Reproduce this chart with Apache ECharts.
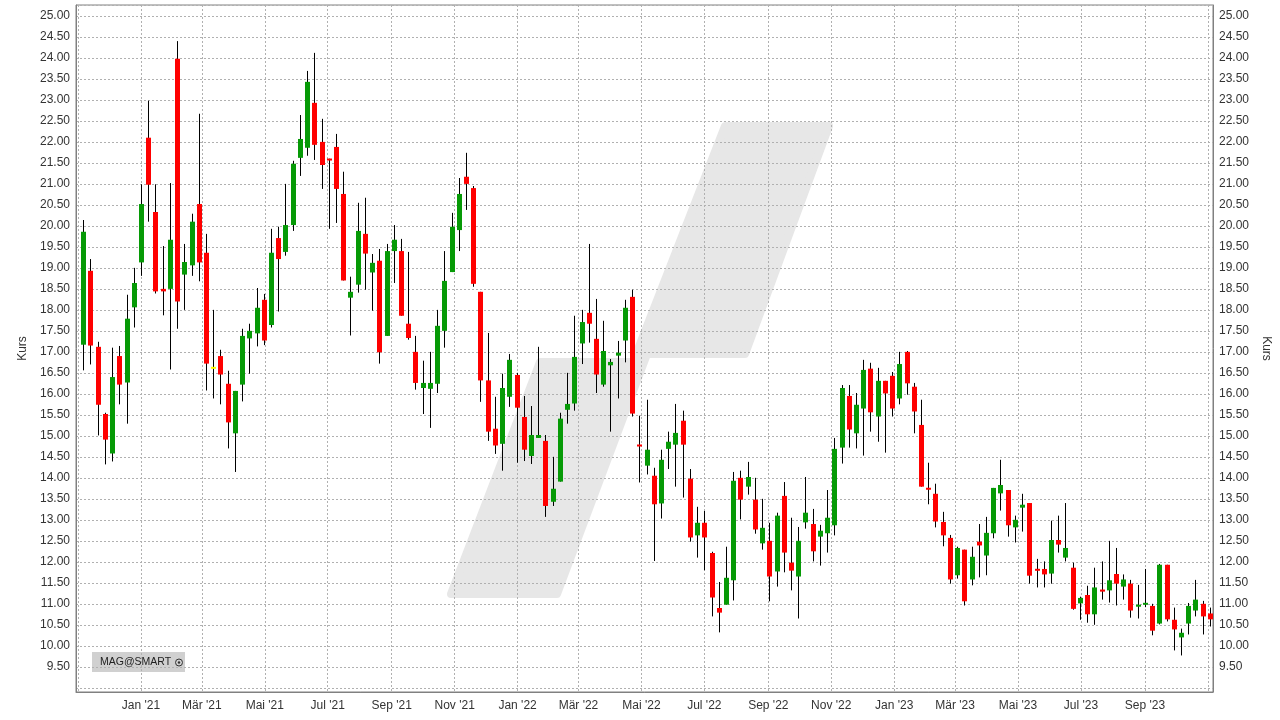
<!DOCTYPE html>
<html>
<head>
<meta charset="utf-8">
<script src="https://cdn.jsdelivr.net/npm/echarts@6/dist/echarts.min.js"></script>
<style>
html,body{margin:0;padding:0;background:#fff;}
#chart{width:1280px;height:720px;}
</style>
</head>
<body>
<div id="chart"></div>
<script>
// Weekly candles (Friday closes), first week and OHLC values
const firstWeek = '2020-11-06';
// [open, close, low, high]
const ohlc = [
[17.17,19.86,16.56,20.14],[18.93,17.15,16.70,19.21],[17.12,15.74,15.01,17.24],[15.52,14.91,14.32,15.55],
[14.58,16.40,14.39,17.10],[16.90,16.22,15.75,17.14],[16.27,17.79,15.29,18.36],[18.06,18.64,17.58,19.00],
[19.13,20.52,18.81,20.99],[22.10,20.98,20.10,22.98],[20.33,18.44,18.39,20.99],[18.50,18.44,17.87,19.52],
[18.50,19.67,16.58,21.02],[23.98,18.20,17.55,24.40],[18.84,19.14,18.00,19.57],[19.06,20.10,18.81,20.29],
[20.52,19.13,18.68,22.67],[19.36,16.72,16.08,19.81],[16.62,16.62,15.89,18.00],[16.90,16.46,15.75,17.05],
[16.24,15.32,14.70,16.55],[15.06,16.07,14.14,16.07],[16.22,17.38,15.82,17.55],[17.32,17.50,16.48,17.67],
[17.44,18.05,17.13,18.52],[18.24,17.27,17.16,18.38],[17.64,19.36,17.58,19.93],[19.71,19.21,17.96,19.98],
[19.38,20.02,19.29,21.00],[20.02,21.48,19.88,21.55],[21.62,22.07,21.19,22.64],[21.86,23.43,21.67,23.69],
[22.93,21.93,21.57,24.12],[22.00,21.45,20.88,22.55],[21.60,21.56,19.93,21.60],[21.88,20.88,20.07,22.19],
[20.76,18.70,18.70,21.29],[18.29,18.43,17.39,18.79],[18.60,19.88,18.41,20.55],[19.81,19.34,18.48,20.67],
[18.89,19.12,17.98,19.33],[19.17,16.99,16.72,19.45],[17.38,19.40,17.38,19.57],[19.40,19.67,18.64,20.02],
[19.40,17.86,17.86,19.69],[17.67,17.33,17.29,19.38],[17.00,16.26,16.10,17.38],[16.14,16.26,15.52,16.79],
[16.12,16.26,15.19,17.00],[16.24,17.62,16.02,18.00],[17.50,18.69,17.10,19.40],[18.90,19.98,18.90,20.31],
[19.90,20.76,19.40,21.14],[21.17,21.00,20.38,21.74],[20.90,18.62,18.55,20.95],[18.43,16.32,15.81,18.43],
[16.32,15.10,14.88,17.45],[15.17,14.77,14.57,15.93],[14.81,16.14,14.17,16.48],[15.93,16.81,15.69,16.95],
[16.45,15.67,14.36,16.50],[15.45,14.67,14.40,15.95],[14.52,15.02,14.33,15.71],[14.95,15.02,14.95,17.12],
[14.88,13.33,13.07,15.02],[13.43,13.74,13.33,14.50],[13.91,15.41,13.91,15.55],[15.62,15.76,15.29,16.50],
[15.77,16.88,15.60,17.86],[17.20,17.71,16.71,18.00],[17.93,17.67,17.22,19.57],[17.31,16.46,16.02,18.26],
[16.22,17.02,16.17,17.74],[16.68,16.76,15.10,16.83],[16.91,16.98,15.89,17.26],[17.27,18.05,16.75,18.24],
[18.31,15.53,15.46,18.48],[14.79,14.75,13.89,15.48],[14.29,14.67,14.08,15.86],[14.05,13.37,12.02,14.24],
[13.39,14.43,13.03,14.67],[14.69,14.86,14.21,15.10],[14.79,15.07,13.79,15.76],[15.36,14.79,13.53,15.60],
[13.98,12.58,12.48,14.21],[12.63,12.93,12.10,13.31],[12.93,12.58,11.80,13.21],[12.21,11.15,10.70,12.24],
[10.90,10.79,10.32,11.52],[10.98,11.62,10.98,12.36],[11.56,13.93,11.08,14.14],[14.00,13.48,13.01,14.17],
[13.79,14.02,13.60,14.38],[13.48,12.77,12.67,14.00],[12.44,12.81,12.29,13.50],[12.50,11.65,11.06,12.93],
[11.77,13.10,11.41,13.17],[13.57,12.22,11.75,13.90],[11.98,11.79,11.32,13.05],[11.65,12.50,10.65,12.83],
[12.94,13.17,12.79,14.02],[12.90,12.25,12.01,13.26],[12.60,12.74,11.91,12.88],[12.68,13.05,12.22,13.71],
[12.87,14.69,12.63,14.95],[14.72,16.14,14.34,16.21],[15.95,15.15,14.72,16.21],[15.06,15.74,14.70,16.02],
[15.65,16.57,14.53,16.81],[16.60,15.56,15.10,16.74],[15.46,16.31,14.86,16.62],[16.31,16.01,14.60,16.31],
[16.43,15.65,15.46,16.52],[15.89,16.71,15.75,17.00],[17.00,16.25,15.98,17.02],[16.17,15.58,15.06,16.26],
[15.26,13.79,13.79,15.86],[13.76,13.72,13.37,14.36],[13.62,12.96,12.82,13.86],[12.95,12.63,12.37,13.19],
[12.57,11.58,11.48,12.64],[11.68,12.33,11.60,12.36],[12.29,11.06,10.96,12.29],[11.58,12.12,11.44,12.36],
[12.48,12.39,11.63,12.90],[12.15,12.69,11.68,13.07],[12.68,13.76,12.56,13.76],[13.63,13.83,13.22,14.43],
[13.71,12.87,12.60,13.71],[12.82,13.00,12.46,13.10],[13.29,13.36,12.72,13.62],[13.40,11.67,11.48,13.40],
[11.83,11.79,11.39,12.07],[11.83,11.70,11.39,12.01],[11.72,12.52,11.48,12.98],[12.52,12.41,12.22,13.10],
[12.10,12.33,12.01,13.40],[11.86,10.88,10.86,11.98],[11.01,11.14,10.62,11.17],[11.21,10.75,10.55,11.43],
[10.75,11.39,10.50,11.86],[11.34,11.29,11.10,12.01],[11.32,11.56,11.03,12.50],[11.71,11.48,10.96,12.33],
[11.41,11.58,11.10,11.70],[11.48,10.84,10.67,11.57],[10.94,10.97,10.65,11.45],[10.98,11.02,10.92,11.83],
[10.95,10.36,10.25,11.00],[10.53,11.93,10.51,11.95],[11.93,10.63,10.58,11.93],[10.62,10.39,9.89,10.91],
[10.20,10.31,9.77,10.41],[10.53,10.95,10.27,11.02],[10.84,11.10,10.70,11.57],[11.00,10.70,10.27,11.07],
[10.77,10.63,10.46,10.91]
];
const monthNames = ['Jan','Feb','Mär','Apr','Mai','Jun','Jul','Aug','Sep','Okt','Nov','Dez'];
const xRange = ['2020-10-30', '2023-11-06'];
const yRange = [8.9, 25.26];
const yLabelRange = [9.5, 25.0];
const axisTitle = 'Kurs';
const stampText = 'MAG@SMART';

const GREEN = '#069a06', RED = '#ff0000', DOJI = '#ffff00';
const DAY = 86400000;

// week dates (one per candle)
const weeks = [];
{
  const t0 = Date.parse(firstWeek + 'T00:00:00Z');
  for (let i = 0; i < ohlc.length; i++) weeks.push(t0 + i * 7 * DAY);
}
const seriesData = ohlc.map((d, i) => [weeks[i], d[0], d[1], d[2], d[3]]);
const xMin = Date.parse(xRange[0] + 'T00:00:00Z');
const xMax = Date.parse(xRange[1] + 'T00:00:00Z');

function yFmt(v) {
  const r = Math.round(v * 2);
  if (Math.abs(v * 2 - r) > 1e-6) return '';
  if (v < yLabelRange[0] - 1e-6 || v > yLabelRange[1] + 1e-6) return '';
  return v.toFixed(2);
}
function xFmt(v) {
  // labels too close to the plot edges are not shown
  if (v - xMin < 20 * DAY || xMax - v < 20 * DAY) return '';
  const d = new Date(v);
  return monthNames[d.getUTCMonth()] + " '" + String(d.getUTCFullYear()).slice(2);
}

const FONT = 'Liberation Sans';
const chart = echarts.init(document.getElementById('chart'), null, {renderer: 'canvas'});
const option = {
  animation: false,
  useUTC: true,
  backgroundColor: '#ffffff',
  grid: {left: 76, right: 67, top: 5, bottom: 28, show: true, borderColor: '#808080', borderWidth: 1, containLabel: false},
  xAxis: {
    type: 'time',
    min: xMin,
    max: xMax,
    splitNumber: 16,
    axisLine: {lineStyle: {color: '#808080', width: 1}},
    axisTick: {show: false},
    axisLabel: {
      color: '#333', fontFamily: FONT, fontSize: 12, margin: 8,
      formatter: xFmt, showMinLabel: false, showMaxLabel: false
    },
    splitLine: {show: true, lineStyle: {color: '#b0b0b0', type: [2, 2], width: 1}}
  },
  yAxis: [
    {
      type: 'value', position: 'left', min: yRange[0], max: yRange[1], splitNumber: 32,
      name: axisTitle, nameLocation: 'middle', nameGap: 35, nameRotate: 90,
      nameTextStyle: {color: '#333', fontFamily: FONT, fontSize: 12},
      axisLine: {show: true, lineStyle: {color: '#808080'}},
      axisTick: {show: false},
      axisLabel: {color: '#333', fontFamily: FONT, fontSize: 12, margin: 6, formatter: yFmt, showMinLabel: false, showMaxLabel: false},
      splitLine: {show: true, lineStyle: {color: '#b0b0b0', type: [2, 2], width: 1}}
    },
    {
      type: 'value', position: 'right', min: yRange[0], max: yRange[1], splitNumber: 32,
      name: axisTitle, nameLocation: 'middle', nameGap: 39, nameRotate: -90,
      nameTextStyle: {color: '#333', fontFamily: FONT, fontSize: 12},
      axisLine: {show: true, lineStyle: {color: '#808080'}},
      axisTick: {show: false},
      axisLabel: {color: '#333', fontFamily: FONT, fontSize: 12, margin: 6, formatter: yFmt, showMinLabel: false, showMaxLabel: false},
      splitLine: {show: false}
    }
  ],
  graphic: {
    elements: [
      {
        type: 'polygon', z: -10, silent: true,
        shape: {points: [[725,126],[829,126],[745,354],[647,354],[557,594],[451,594],[540,362],[633,362]]},
        style: {fill: '#e7e7e7', stroke: '#e7e7e7', lineWidth: 8, lineJoin: 'round'}
      },
      {
        type: 'group', left: 92, top: 652, z: 5,
        children: [
          {type: 'rect', shape: {x: 0, y: 0, width: 93, height: 20}, style: {fill: '#d0d0d0'}},
          {type: 'text', x: 8, y: 5, style: {text: stampText, fill: '#222', font: '10.5px "Liberation Sans"'}},
          {type: 'circle', shape: {cx: 87, cy: 10.5, r: 3.5}, style: {fill: 'none', stroke: '#333', lineWidth: 1}},
          {type: 'circle', shape: {cx: 87, cy: 10.5, r: 1.2}, style: {fill: '#333'}}
        ]
      }
    ]
  },
  series: [{
    type: 'custom',
    xAxisIndex: 0, yAxisIndex: 0,
    encode: {x: 0, y: [1, 2, 3, 4]},
    data: seriesData,
    renderItem: function (params, api) {
      const x = api.value(0);
      const o = api.value(1), c = api.value(2), l = api.value(3), h = api.value(4);
      const pO = api.coord([x, o]), pC = api.coord([x, c]);
      const pL = api.coord([x, l]), pH = api.coord([x, h]);
      const cx = Math.round(pO[0]);
      const color = c > o ? GREEN : (c < o ? RED : DOJI);
      let top = Math.min(pO[1], pC[1]);
      let hgt = Math.abs(pO[1] - pC[1]);
      if (hgt < 2) { top = (pO[1] + pC[1]) / 2 - 1; hgt = 2; }
      return {
        type: 'group',
        children: [
          {type: 'line', shape: {x1: cx + 0.5, y1: pH[1], x2: cx + 0.5, y2: pL[1]}, style: {stroke: '#000', lineWidth: 1}},
          {type: 'rect', shape: {x: cx - 2, y: top, width: 5, height: hgt}, style: {fill: color}}
        ]
      };
    }
  }]
};
chart.setOption(option);
</script>
</body>
</html>
